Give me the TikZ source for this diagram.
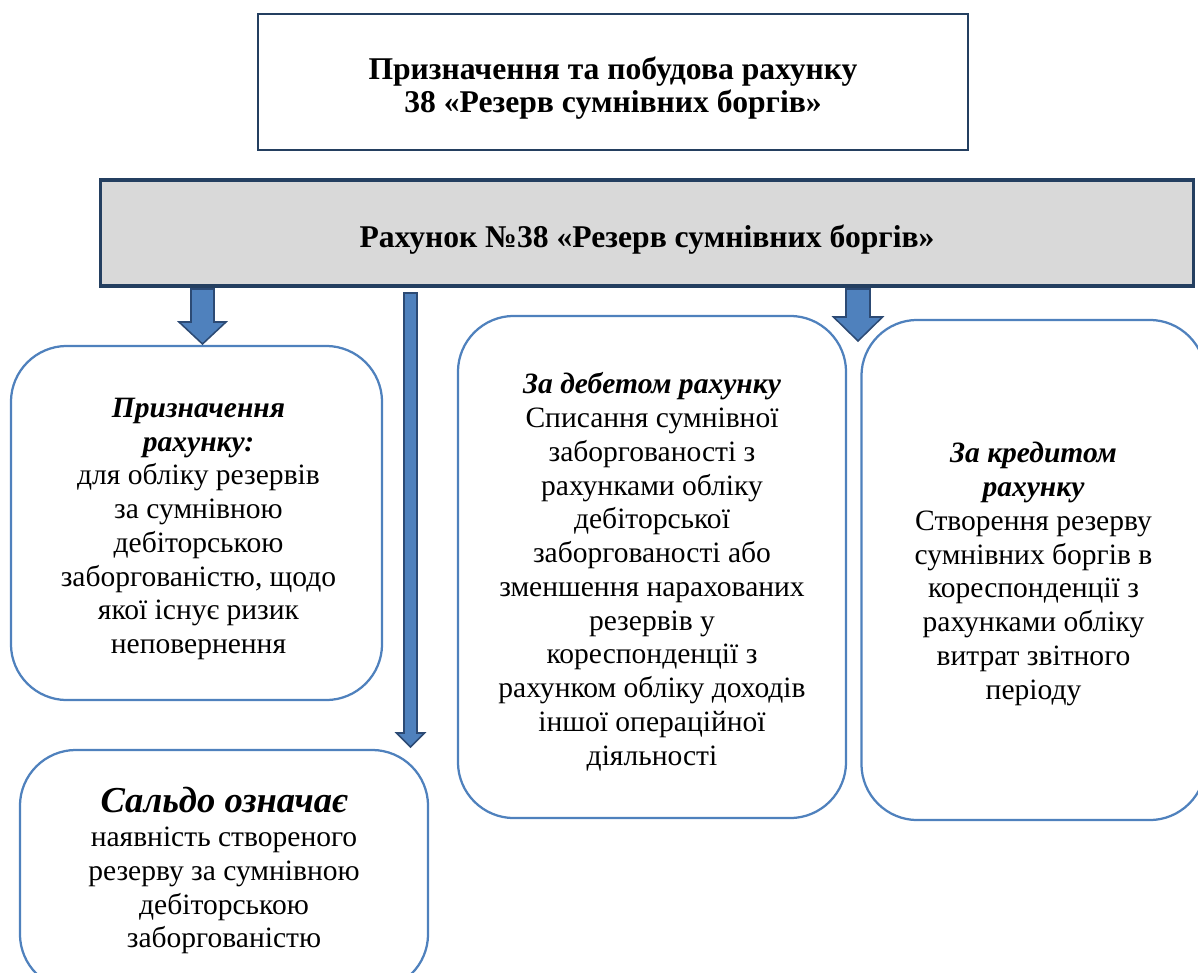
\documentclass[tikz,border=0pt]{standalone}
\usepackage{fontspec}
\setmainfont{Liberation Serif}
\usetikzlibrary{positioning}
\definecolor{boxblue}{HTML}{4F81BD}
\definecolor{arrowedge}{HTML}{2C4A74}
\definecolor{navy}{HTML}{243F60}
\definecolor{bandgrey}{HTML}{D9D9D9}
\newcommand{\headfont}{\bfseries\itshape}
\tikzset{
    % Basic text
    body text/.style={font=\fontsize{21}{24}\selectfont, align=center, inner sep=0pt},
    bold text/.style={body text, font=\fontsize{22.5}{24}\selectfont\bfseries},
    % Block styles
    title box/.style={rectangle, draw=navy, line width=1.8pt, fill=white},
    band box/.style={rectangle, draw=navy, line width=2.2pt, fill=bandgrey},
    round box/.style={rectangle, draw=boxblue, line width=1.6pt, rounded corners=1.4cm, fill=white},
    % Arrow styles
    block arrow/.style={draw=arrowedge, line width=1.1pt, fill=boxblue, line join=miter},
}
\begin{document}
\begin{tikzpicture}[x=0.025cm, y=-0.025cm]
    \clip (0,0) rectangle (1198,973);

    % Title and account band
    \node[title box, minimum width=17.75cm, minimum height=3.4cm] (title) at (613,82) {};
    \node[bold text] (title text) at ([yshift=-0.15cm] title.center)
        {Призначення та побудова рахунку\\38 «Резерв сумнівних боргів»};
    \node[band box, minimum width=27.3cm, minimum height=2.65cm] (account) at (647,233) {};
    \node[bold text] (account text) at ([yshift=-0.17cm] account.center)
        {Рахунок №38 «Резерв сумнівних боргів»};

    % Boxes
    \node[round box, minimum width=9.275cm, minimum height=8.85cm] (purpose) at (196.5,523) {};
    \node[body text] (purpose text) at ([xshift=0.05cm, yshift=-0.15cm] purpose.center)
        {{\headfont Призначення}\\{\headfont рахунку:}\\для обліку резервів\\за сумнівною\\дебіторською\\заборгованістю, щодо\\якої існує ризик\\неповернення};
    \node[round box, minimum width=10.2cm, minimum height=6cm] (balance) at (224,870) {};
    \node[body text] (balance text) at ([yshift=-0.02cm] balance.center)
        {{\fontsize{26}{26}\selectfont\headfont Сальдо означає}\\наявність створеного\\резерву за сумнівною\\дебіторською\\заборгованістю};
    \node[round box, minimum width=9.7cm, minimum height=12.55cm] (debit) at (652,567) {};
    \node[body text] (debit text) at ([yshift=-0.12cm] debit.center)
        {{\headfont За дебетом рахунку}\\Списання сумнівної\\заборгованості з\\рахунками обліку\\дебіторської\\заборгованості або\\зменшення нарахованих\\резервів у\\кореспонденції з\\рахунком обліку доходів\\іншої операційної\\діяльності};
    \node[round box, minimum width=8.6cm, minimum height=12.5cm] (credit) at (1033.5,570) {};
    \node[body text] (credit text) at ([yshift=-0.1cm] credit.center)
        {{\headfont За кредитом}\\{\headfont рахунку}\\Створення резерву\\сумнівних боргів в\\кореспонденції з\\рахунками обліку\\витрат звітного\\періоду};

    % Block arrows: centre x / top / tip / shaft half / head half / head length
    \foreach \cx/\ty/\by/\sw/\hw/\hl in {202.5/289/344/11.5/23.5/22, 410.5/293/747/6.5/14/14, 858/289/341/12/24.5/24} {
        \draw[block arrow] (\cx-\sw,\ty) -- (\cx+\sw,\ty) -- (\cx+\sw,\by-\hl) -- (\cx+\hw,\by-\hl)
            -- (\cx,\by) -- (\cx-\hw,\by-\hl) -- (\cx-\sw,\by-\hl) -- cycle;
    }
\end{tikzpicture}
\end{document}
